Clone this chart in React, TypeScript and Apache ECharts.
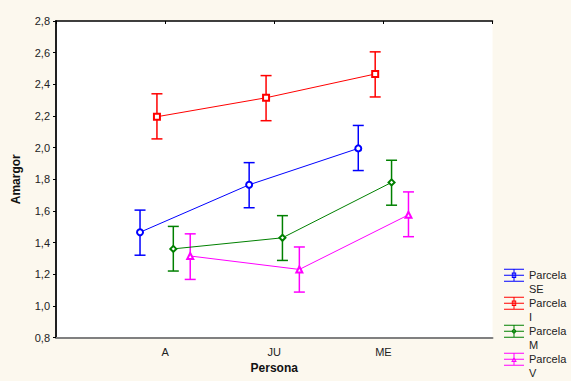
import React, { useEffect, useRef } from "react";
import * as echarts from "echarts";

const categories = ["A", "JU", "ME"];
const groupNames = ["Parcela SE", "Parcela I", "Parcela M", "Parcela V"];
const colors = ["#0000ff", "#ff0000", "#008000", "#ff00ff"];
const symbols = ["emptyCircle", "emptyRect", "emptyDiamond", "emptyTriangle"];
const dodge = [-0.23, -0.075, 0.075, 0.23];

const meanSE = [1.465, 1.765, 1.995];
const meanI = [2.195, 2.315, 2.465];
const meanM = [1.36, 1.43, 1.78];
const meanV = [1.315, 1.23, 1.575];

const lowSE = [1.32, 1.62, 1.855];
const highSE = [1.605, 1.905, 2.14];
const lowI = [2.055, 2.17, 2.32];
const highI = [2.34, 2.455, 2.605];
const lowM = [1.22, 1.287, 1.636];
const highM = [1.502, 1.57, 1.92];
const lowV = [1.167, 1.087, 1.437];
const highV = [1.455, 1.372, 1.72];

const yTicks = [0.8, 1.0, 1.2, 1.4, 1.6, 1.8, 2.0, 2.2, 2.4, 2.6, 2.8];

const means = [meanSE, meanI, meanM, meanV];
const lows = [lowSE, lowI, lowM, lowV];
const highs = [highSE, highI, highM, highV];

const markerPaths = [
  "M7.8 4.5 H12.2 V10 H7.8 Z M8.8 5.5 V9 H11.2 V5.5 Z",
  "M7.8 4.5 H12.2 V10 H7.8 Z M8.8 5.5 V9 H11.2 V5.5 Z",
  "M10 4.2 L12.8 7.25 L10 10.3 L7.2 7.25 Z M10 5.6 L8.5 7.25 L10 8.9 L11.5 7.25 Z",
  "M10 4.5 L12.8 10 L7.2 10 Z M10 6.5 L8.7 9.1 L11.3 9.1 Z",
];

function legendIcon(i: number) {
  const base =
    "M0 0 M20 28 " +
    "M0 0.75 H20 V1.75 H0 Z " +
    "M0 6.75 H20 V7.75 H0 Z " +
    "M0 12.75 H20 V13.75 H0 Z " +
    "M9.5 0.75 H10.5 V13.75 H9.5 Z ";
  return "path://" + base + markerPaths[i];
}

const FONT = "'Liberation Sans', Arial, sans-serif";

export default function App() {
  const ref = useRef<HTMLDivElement>(null);
  useEffect(() => {
    document.body.style.margin = "0";
    document.body.style.background = "#fcf8ee";
    const chart = echarts.init(ref.current!, null, { renderer: "svg" });
    const series: any[] = [];
    groupNames.forEach((name, g) => {
      const color = colors[g];
      series.push({
        type: "custom",
        name,
        z: 2,
        data: categories.map((_, i) => [i + 1 + dodge[g], lows[g][i], highs[g][i]]),
        encode: { x: 0, y: [1, 2] },
        renderItem: (_params: any, api: any) => {
          const x = api.value(0);
          const top = api.coord([x, api.value(2)]);
          const bot = api.coord([x, api.value(1)]);
          const hw = 5.5;
          const st = { stroke: color, lineWidth: 1.5 };
          return {
            type: "group",
            children: [
              { type: "line", shape: { x1: top[0], y1: top[1], x2: bot[0], y2: bot[1] }, style: st },
              { type: "line", shape: { x1: top[0] - hw, y1: top[1], x2: top[0] + hw, y2: top[1] }, style: st },
              { type: "line", shape: { x1: bot[0] - hw, y1: bot[1], x2: bot[0] + hw, y2: bot[1] }, style: st },
            ],
          };
        },
      });
      series.push({
        type: "line",
        name,
        z: 3,
        data: categories.map((_, i) => [i + 1 + dodge[g], means[g][i]]),
        symbol: symbols[g],
        symbolSize: 6,
        lineStyle: { color, width: 1 },
        itemStyle: { color, borderColor: color, borderWidth: 1 },
      });
    });

    chart.setOption({
      animation: false,
      backgroundColor: "#fcf8ee",
      grid: { left: 56, right: 78.5, top: 21, bottom: 43.5, show: true, backgroundColor: "#ffffff", borderWidth: 0 },
      xAxis: [
        {
          type: "value",
          min: 0,
          max: 4,
          interval: 1,
          position: "bottom",
          axisLine: { show: true, lineStyle: { color: "#808080", width: 2 } },
          axisTick: { show: false },
          splitLine: { show: false },
          axisLabel: {
            margin: 9,
            color: "#222",
            fontFamily: FONT,
            fontSize: 11,
            formatter: (v: number) => (v >= 1 && v <= categories.length ? categories[v - 1] : ""),
          },
          name: "Persona",
          nameLocation: "middle",
          nameGap: 24,
          nameTextStyle: { fontFamily: FONT, fontSize: 12, fontWeight: "bold", color: "#111" },
        },
        {
          type: "value",
          min: 0,
          max: 4,
          interval: 1,
          position: "top",
          axisLine: { show: true, lineStyle: { color: "#000", width: 1.5 } },
          axisTick: { show: true, inside: true, length: 3, lineStyle: { color: "#000" } },
          axisLabel: { show: false },
          splitLine: { show: false },
        },
      ],
      yAxis: [
        {
          type: "value",
          min: 0.8,
          max: 2.8,
          interval: 0.2,
          position: "left",
          axisLine: { show: true, lineStyle: { color: "#808080", width: 2 } },
          axisTick: { show: false },
          splitLine: { show: false },
          axisLabel: {
            margin: 6,
            color: "#222",
            fontFamily: FONT,
            fontSize: 11,
            formatter: (v: number) => {
              const t = yTicks.find((k) => Math.abs(k - v) < 1e-6);
              return (t ?? v).toFixed(1).replace(".", ",");
            },
          },
          name: "Amargor",
          nameLocation: "middle",
          nameGap: 34,
          nameRotate: 90,
          nameTextStyle: { fontFamily: FONT, fontSize: 12, fontWeight: "bold", color: "#111" },
        },
        {
          type: "value",
          min: 0.8,
          max: 2.8,
          interval: 0.2,
          position: "right",
          axisLine: { show: true, lineStyle: { color: "#000", width: 1.5 } },
          axisTick: { show: true, inside: true, length: 3, lineStyle: { color: "#000" } },
          axisLabel: { show: false },
          splitLine: { show: false },
        },
      ],
      legend: {
        orient: "vertical",
        left: 504,
        top: 268,
        padding: 0,
        itemWidth: 20,
        itemHeight: 28,
        itemGap: 0,
        selectedMode: false,
        symbolKeepAspect: false,
        formatter: (n: string) => n.replace(" ", "\n"),
        textStyle: { fontFamily: FONT, fontSize: 11, color: "#222", lineHeight: 14 },
        itemStyle: { borderWidth: 0 },
        data: groupNames.map((n, g) => ({
          name: n,
          icon: legendIcon(g),
          itemStyle: { color: colors[g], borderWidth: 0 },
        })),
      },
      series,
    });
    return () => chart.dispose();
  }, []);
  return <div ref={ref} style={{ width: 571, height: 381, background: "#fcf8ee" }} />;
}
